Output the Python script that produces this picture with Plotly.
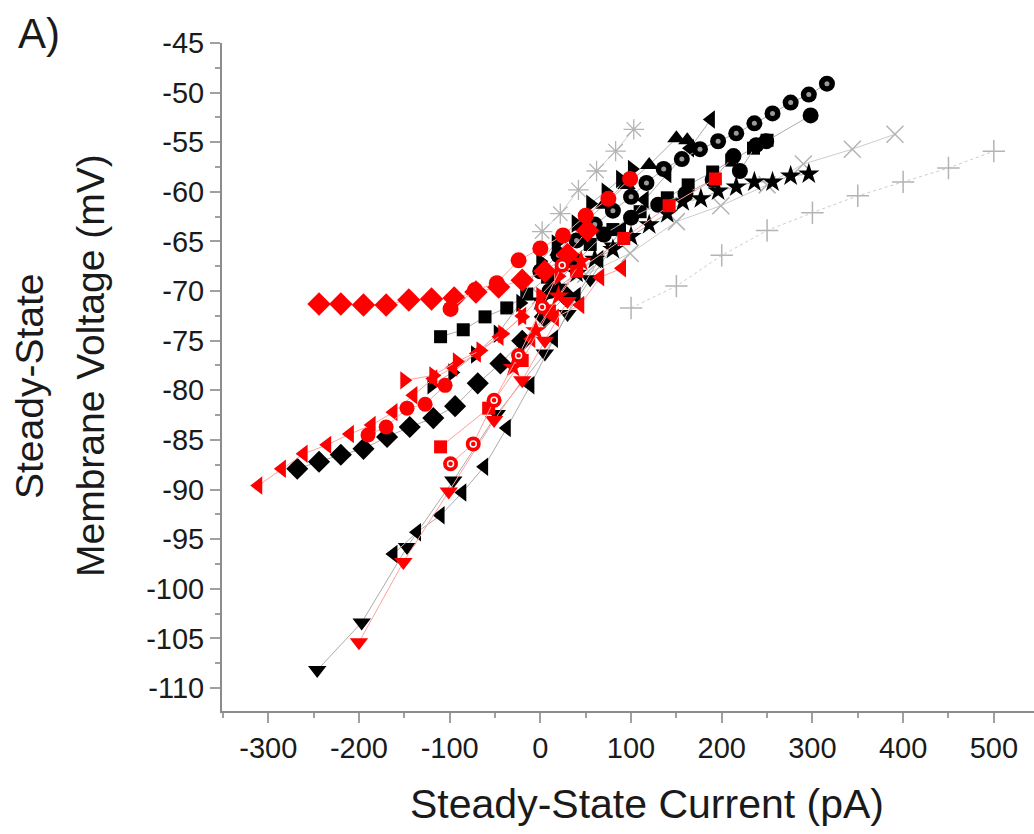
import plotly.graph_objects as go

# ---------------- data ----------------
X_TICKS = [-300, -200, -100, 0, 100, 200, 300, 400, 500]
X_TICK_TEXT = ["-300", "-200", "-100", "0", "100", "200", "300", "400", "500"]
Y_TICKS = [-110, -105, -100, -95, -90, -85, -80, -75, -70, -65, -60, -55, -50, -45]
Y_TICK_TEXT = ["-110", "-105", "-100", "-95", "-90", "-85", "-80", "-75", "-70", "-65", "-60", "-55", "-50", "-45"]

# gray series
G_PLUS_X = [100, 150, 200, 250, 300, 350, 400, 450, 500]
G_PLUS_Y = [-71.7, -69.5, -66.4, -63.9, -62.1, -60.4, -59.0, -57.6, -55.9]
G_X_X = [0, 50, 99, 150, 199, 250, 290, 344, 391]
G_X_Y = [-70.5, -68.3, -66.2, -63.0, -61.4, -59.3, -57.2, -55.7, -54.2]
G_AST_X = [2, 22, 42, 62, 83, 103]
G_AST_Y = [-64.0, -62.2, -59.8, -57.9, -55.9, -53.7]

# black series
B_BALL_X = [0, 20, 40, 60, 80, 100, 117, 136, 156, 176, 196, 216, 236, 256, 276, 296, 316]
B_BALL_Y = [-68.0, -66.4, -64.9, -63.3, -61.9, -60.5, -59.1, -57.7, -56.7, -55.7, -54.9, -54.1, -53.1, -52.1, -51.0, -50.2, -49.1]
B_CIRC_X = [10, 40, 70, 100, 130, 160, 190, 213, 220, 238, 249, 298]
B_CIRC_Y = [-70.0, -67.0, -64.3, -62.6, -61.3, -60.2, -58.8, -56.4, -57.9, -55.3, -54.9, -52.3]
B_RTRI_X = [-120, -97, -72, -47, -22, 0, 17, 39, 55, 72, 88, 101]
B_RTRI_Y = [-79.5, -78.2, -76.4, -74.3, -71.2, -67.0, -65.2, -63.2, -61.2, -60.0, -58.7, -57.7]
B_UTRI_X = [20, 45, 70, 95, 120, 150, 162]
B_UTRI_Y = [-66.0, -63.5, -61.3, -59.3, -57.3, -54.6, -54.8]
B_LTRI_X = [-162, -136, -110, -86, -62, -37, -11, 15, 40, 65, 90, 115, 140, 165, 188]
B_LTRI_Y = [-96.5, -94.3, -92.6, -90.3, -87.7, -83.8, -79.5, -74.8, -70.5, -66.8, -63.8, -60.8, -58.2, -55.6, -52.7]
B_DTRI_X = [-246, -197, -147, -96, -48, 5, 30, 55, 80]
B_DTRI_Y = [-108.2, -103.4, -95.8, -89.1, -82.4, -76.3, -72.3, -68.8, -65.5]
B_DIAM_X = [-268, -244, -220, -195, -169, -144, -118, -94, -69, -44, -20, 5, 28]
B_DIAM_Y = [-87.9, -87.2, -86.5, -85.9, -84.7, -83.7, -82.8, -81.6, -79.3, -77.3, -75.0, -72.6, -70.5]
B_SQ_X = [-110, -85, -61, -37, -15, 8, 30, 55, 80, 110, 140, 163, 190, 211, 235, 250]
B_SQ_Y = [-74.6, -73.9, -72.6, -71.7, -70.3, -68.6, -67.0, -65.3, -63.8, -62.0, -60.6, -59.3, -58.0, -56.8, -55.6, -54.8]
B_STAR_X = [0, 20, 40, 60, 80, 100, 120, 140, 157, 177, 196, 216, 236, 256, 276, 296]
B_STAR_Y = [-71.0, -69.6, -68.2, -66.8, -65.8, -64.5, -63.3, -62.2, -61.0, -60.7, -59.9, -59.5, -59.0, -59.0, -58.4, -58.2]

# red series
R_DIAM_X = [-244, -220, -195, -170, -145, -120, -95, -71, -46, -20, 5, 30, 52]
R_DIAM_Y = [-71.3, -71.3, -71.4, -71.4, -70.9, -70.8, -70.7, -70.1, -69.6, -68.9, -68.0, -66.3, -63.9]
R_CIRC_X = [-99, -72, -48, -24, 0, 25, 50, 75, 99]
R_CIRC_Y = [-71.8, -69.9, -69.2, -66.9, -65.7, -64.4, -62.4, -60.7, -58.7]
R_CIRC2_X = [-190, -170, -147, -127, -105]
R_CIRC2_Y = [-84.5, -83.7, -81.8, -81.4, -79.5]
R_LTRI_X = [-311, -285, -261, -235, -210, -186, -162, -140, -118, -96, -70, -45, -20]
R_LTRI_Y = [-89.6, -87.9, -86.4, -85.5, -84.4, -83.5, -82.2, -80.5, -78.8, -77.7, -76.3, -74.6, -72.5]
R_RTRI_X = [-150, -118, -92, -66, -42, -20, 0, 20]
R_RTRI_Y = [-79.0, -78.5, -77.1, -76.0, -74.3, -72.6, -70.5, -68.5]
R_LTRI2_X = [-10, 16, 44, 66, 90]
R_LTRI2_Y = [-74.8, -72.7, -71.4, -68.6, -67.7]
R_DTRI_X = [-200, -151, -101, -51, -20, 5, 30]
R_DTRI_Y = [-105.4, -97.3, -90.2, -83.0, -79.0, -75.0, -71.0]
R_RING_X = [-99, -74, -51, -24, 2, 24]
R_RING_Y = [-87.4, -85.4, -81.0, -76.5, -71.6, -67.4]
R_SQ_X = [-110, -57, -20, 10, 40, 92, 142, 193]
R_SQ_Y = [-85.7, -81.8, -77.0, -72.0, -68.0, -64.7, -61.4, -58.7]
R_STAR_X = [-30, -5, 20, 45]
R_STAR_Y = [-77.7, -74.0, -70.5, -67.0]

# ---------------- styling ----------------
BLACK = "#000000"
RED = "#ff0000"
GRAY = "#b4b4b4"
BLACK_LINE = "#acacac"
RED_LINE = "#ffa0a0"
GRAY_LINE = "#cccccc"
FONT = "Liberation Sans, Arial, sans-serif"

fig = go.Figure()


def add_series(xs, ys, symbol, color, size, line_color, dash="solid", mlw=0):
    fig.add_trace(go.Scatter(x=xs, y=ys, mode="lines+markers",
                             line=dict(color=line_color, width=1, dash=dash),
                             marker=dict(symbol=symbol, size=size, color=color,
                                         line=dict(color=color, width=mlw)),
                             hoverinfo="x+y"))


def add_highlight(xs, ys, symbol, color, size, lw=0):
    fig.add_trace(go.Scatter(x=xs, y=ys, mode="markers",
                             marker=dict(symbol=symbol, size=size, color=color,
                                         line=dict(color=color, width=lw)),
                             hoverinfo="skip"))


# gray
add_series(G_PLUS_X, G_PLUS_Y, "cross-thin", GRAY, 16, GRAY_LINE, dash="dot", mlw=1.5)
add_series(G_X_X, G_X_Y, "x-thin", GRAY, 17, GRAY_LINE, mlw=1.5)
add_series(G_AST_X, G_AST_Y, "asterisk", GRAY, 17, GRAY_LINE, mlw=1.3)

# black
add_series(B_SQ_X, B_SQ_Y, "square", BLACK, 13, BLACK_LINE)
add_series(B_DIAM_X, B_DIAM_Y, "diamond", BLACK, 17, BLACK_LINE)
add_series(B_DTRI_X, B_DTRI_Y, "triangle-down", BLACK, 16, BLACK_LINE)
add_series(B_LTRI_X, B_LTRI_Y, "triangle-left", BLACK, 16, BLACK_LINE)
add_series(B_RTRI_X, B_RTRI_Y, "triangle-right", BLACK, 16, BLACK_LINE)
add_series(B_UTRI_X, B_UTRI_Y, "triangle-up", BLACK, 16, BLACK_LINE)
add_series(B_STAR_X, B_STAR_Y, "star", BLACK, 16, BLACK_LINE)
add_series(B_CIRC_X, B_CIRC_Y, "circle", BLACK, 16, BLACK_LINE)
add_series(B_BALL_X, B_BALL_Y, "circle", BLACK, 16, BLACK_LINE)
add_highlight(B_BALL_X, B_BALL_Y, "circle", "#9a9a9a", 5)

# red
add_series(R_LTRI_X, R_LTRI_Y, "triangle-left", RED, 16, RED_LINE)
add_series(R_RTRI_X, R_RTRI_Y, "triangle-right", RED, 16, RED_LINE)
add_series(R_CIRC2_X, R_CIRC2_Y, "circle", RED, 15, RED_LINE)
add_series(R_DIAM_X, R_DIAM_Y, "diamond", RED, 18, RED_LINE)
add_series(R_CIRC_X, R_CIRC_Y, "circle", RED, 16, RED_LINE)
add_series(R_LTRI2_X, R_LTRI2_Y, "triangle-left", RED, 16, RED_LINE)
add_series(R_DTRI_X, R_DTRI_Y, "triangle-down", RED, 16, RED_LINE)
add_series(R_SQ_X, R_SQ_Y, "square", RED, 13, RED_LINE)
add_series(R_STAR_X, R_STAR_Y, "star", RED, 16, RED_LINE)
add_series(R_RING_X, R_RING_Y, "circle", RED, 15, RED_LINE)
add_highlight(R_RING_X, R_RING_Y, "circle-open", "#ffffff", 6, lw=1.5)

axis_common = dict(showgrid=False, zeroline=False, showline=True, linecolor="#8c8c8c", linewidth=2,
                   ticks="outside", ticklen=10, tickwidth=2, tickcolor="#a0a0a0",
                   tickfont=dict(family=FONT, size=29, color="#1a1a1a"))

fig.update_xaxes(range=[-351, 544.3], tickmode="array", tickvals=X_TICKS, ticktext=X_TICK_TEXT,
                 minor=dict(ticks="outside", ticklen=5, tickwidth=1.5, tickcolor="#a0a0a0", dtick=50, tick0=0),
                 **axis_common)
fig.update_yaxes(range=[-112.32, -45], tickmode="array", tickvals=Y_TICKS, ticktext=Y_TICK_TEXT,
                 minor=dict(ticks="outside", ticklen=5, tickwidth=1.5, tickcolor="#a0a0a0", dtick=2.5, tick0=-45),
                 **axis_common)

fig.update_layout(
    width=1034, height=834,
    margin=dict(l=222, r=0, t=43, b=123),
    paper_bgcolor="white", plot_bgcolor="white",
    showlegend=False,
    font=dict(family=FONT, color="#1a1a1a"),
    annotations=[
        dict(text="A)", xref="paper", yref="paper", x=-0.2254, y=1.0135,
             xanchor="center", yanchor="middle", showarrow=False, font=dict(size=42, family=FONT)),
        dict(text="Steady-State Current (pA)", xref="paper", yref="paper", x=0.5234, y=-0.1392,
             xanchor="center", yanchor="middle", showarrow=False, font=dict(size=41, family=FONT)),
        dict(text="Steady-State", xref="paper", yref="paper", x=-0.2377, y=0.4865, textangle=-90,
             xanchor="center", yanchor="middle", showarrow=False, font=dict(size=39, family=FONT)),
        dict(text="Membrane Voltage (mV)", xref="paper", yref="paper", x=-0.1613, y=0.5165, textangle=-90,
             xanchor="center", yanchor="middle", showarrow=False, font=dict(size=39, family=FONT)),
    ],
)

fig.write_html("out.html", config={"displayModeBar": False},
               post_script="document.body.style.margin='0';document.body.style.overflow='hidden';")
